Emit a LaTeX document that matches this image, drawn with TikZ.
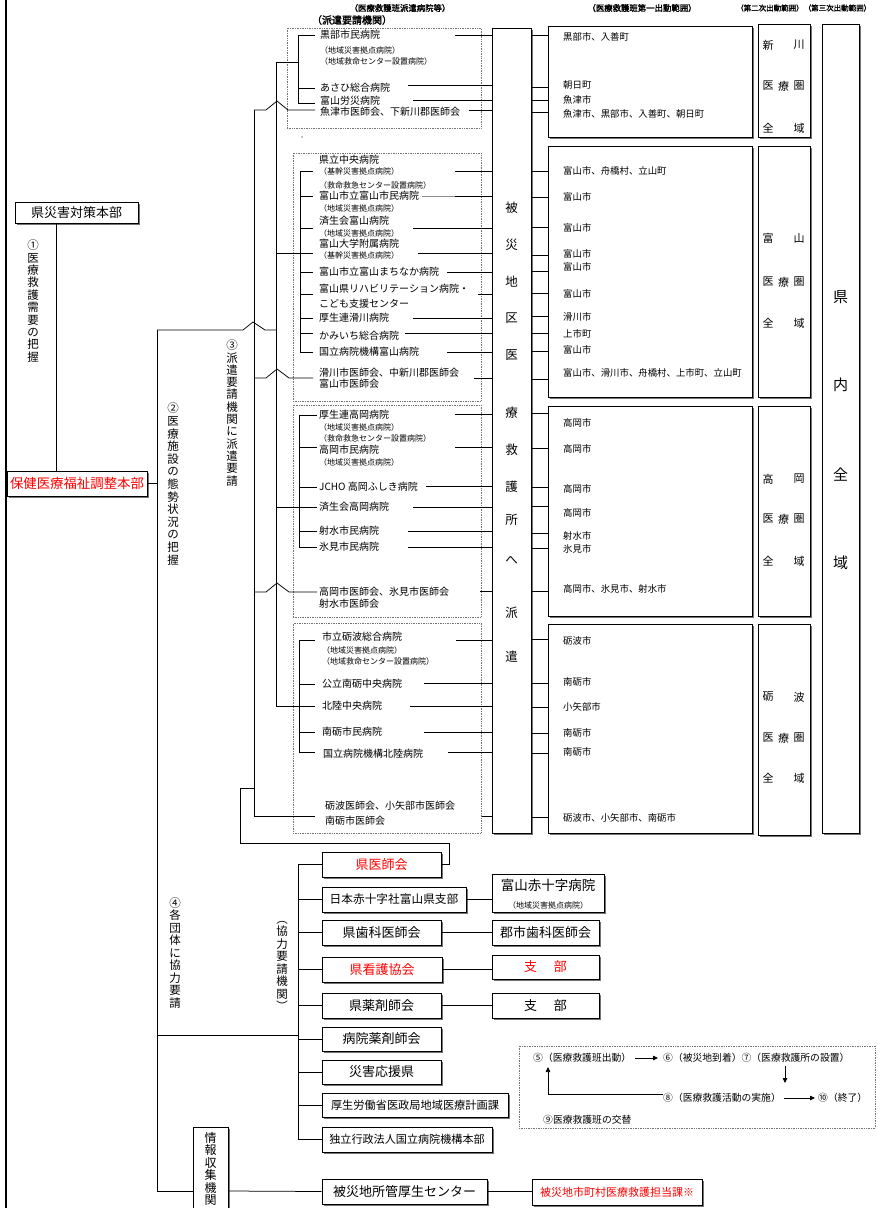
\documentclass[tikz,border=0pt]{standalone}
\usepackage{fontspec}
\setmainfont{Noto Sans CJK JP}
\newfontfamily\hbf{Noto Sans CJK JP}[FakeBold=2]
\usetikzlibrary{shadows,fit,arrows.meta}
\newcommand\fz[1]{\fontsize{#1}{#1}\selectfont}
\definecolor{jred}{RGB}{255,0,0}
\tikzset{
  conn/.style={line width=0.75pt},
  sbox/.style={draw, line width=0.9pt, fill=white, inner sep=0pt, drop shadow={shadow xshift=2pt,shadow yshift=-2pt,fill=black!55,opacity=1}},
  dbox/.style={draw=black!55, densely dotted, line width=0.7pt, inner sep=0pt},
  lbl/.style={inner sep=0pt, anchor=west},
  hname/.style={lbl, font=\fz{10}},
  hsub/.style={lbl, font=\fz{8}},
  rtxt/.style={lbl, font=\fz{9.4}},
  rc/.style={inner sep=0pt, font=\fz{11}},
  vtext/.style={inner sep=0pt, align=center},
  flow/.style={lbl, font=\fz{9.8}},
  arr/.style={conn, -{Triangle[width=4.5pt,length=5pt]}},
}
% box with shadow (fit to two corners) and centred text
\newcommand\tbox[5]{\node[sbox, fit={(#2) (#3)}] (#1) {};
  \node[inner sep=0pt, #4] (#1t) at (#1.center) {#5};}
\begin{document}
\begin{tikzpicture}[x=1pt,y=-1pt]
\useasboundingbox (0,0) rectangle (878,1208);
\draw[line width=2.5pt] (6,0) -- (6,1208);

% headers
\node[inner sep=0, font=\hbf\fz{8.4}] (h1) at (400,8) {（医療救護班派遣病院等）};
\node[inner sep=0, font=\hbf\fz{10}] (h2) at (352,20) {（派遣要請機関）};
\node[inner sep=0, font=\hbf\fz{8.4}] (h3) at (642,8) {（医療救護班第一出動範囲）};
\node[inner sep=0, anchor=west, font=\hbf\fz{7.5}] (h4) at (736,8) {（第二次出動範囲）（第三次出動範囲）};

% main boxes
\node[sbox, fit={(492,28) (531,833)}] (bar) {};
\node[sbox, fit={(548,26) (752,137)}] (r1) {};
\node[sbox, fit={(548,146) (752,397)}] (r2) {};
\node[sbox, fit={(548,406) (752,616)}] (r3) {};
\node[sbox, fit={(548,624) (752,833)}] (r4) {};
\node[sbox, fit={(758,24) (810,137)}] (a1) {};
\node[sbox, fit={(758,146) (810,397)}] (a2) {};
\node[sbox, fit={(758,406) (810,616)}] (a3) {};
\node[sbox, fit={(758,624) (810,835)}] (a4) {};
\node[sbox, fit={(822,24) (859,833)}] (all) {};

% dotted groups
\node[dbox, fit={(287,28) (481,128)}] (g1) {};
\node[dbox, fit={(293,153) (481,401)}] (g2) {};
\node[dbox, fit={(293,405) (481,617)}] (g3) {};
\node[dbox, fit={(293,623) (481,833)}] (g4) {};
\fill (302,137) circle (0.6);

% bar text
\foreach \c/\yy [count=\i] in {被/208,災/245,地/282,区/318,医/355,療/413,救/450,護/487,所/520,へ/560,派/613,遣/657}
  \node[inner sep=0, font=\fz{12.5}] (bt\i) at (511.5,\yy) {\c};
\foreach \c/\yy [count=\i] in {県/297,内/385,全/475,域/563}
  \node[inner sep=0, font=\fz{15}] (at\i) at (840.5,\yy) {\c};

% region texts
\newcommand\rgn[6]{%
  \node[rc] (#1a) at (768,#2) {#3}; \node[rc] (#1b) at (799,#2) {#4};
  \node[rc] (#1c) at (768,#5) {医}; \node[rc] (#1d) at (783.5,#5) {療}; \node[rc] (#1e) at (799,#5) {圏};
  \node[rc] (#1f) at (768,#6) {全}; \node[rc] (#1g) at (799,#6) {域};}
\rgn{ra}{45}{新}{川}{86}{128}
\rgn{rb}{238}{富}{山}{282}{323}
\rgn{rcc}{479}{高}{岡}{519}{561}
\rgn{rd}{697}{砺}{波}{738}{778}

% group 1
\foreach \yy/\tx/\sty [count=\i] in {35/黒部市民病院/hname,50/（地域災害拠点病院）/hsub,61/（地域救命センター設置病院）/hsub,88/あさひ総合病院/hname,101/富山労災病院/hname,112/魚津市医師会、下新川郡医師会/hname}
  \node[\sty] (ga\i) at (320,\yy) {\tx};
% group 2
\foreach \yy/\tx/\sty [count=\i] in {160/県立中央病院/hname,171/（基幹災害拠点病院）/hsub,185/（救命救急センター設置病院）/hsub,196/富山市立富山市民病院/hname,208/（地域災害拠点病院）/hsub,221/済生会富山病院/hname,233/（地域災害拠点病院）/hsub,244/富山大学附属病院/hname,255/（基幹災害拠点病院）/hsub,272/富山市立富山まちなか病院/hname,289/富山県リハビリテーション病院・/hname,304/こども支援センター/hname,318/厚生連滑川病院/hname,336/かみいち総合病院/hname,352/国立病院機構富山病院/hname,373/滑川市医師会、中新川郡医師会/hname,384/富山市医師会/hname}
  \node[\sty] (gb\i) at (319,\yy) {\tx};
% group 3
\foreach \yy/\tx/\sty [count=\i] in {415/厚生連高岡病院/hname,427/（地域災害拠点病院）/hsub,438/（救命救急センター設置病院）/hsub,450/高岡市民病院/hname,462/（地域災害拠点病院）/hsub,487/JCHO 高岡ふしき病院/hname,507/済生会高岡病院/hname,531/射水市民病院/hname,547/氷見市民病院/hname,592/高岡市医師会、氷見市医師会/hname,604/射水市医師会/hname}
  \node[\sty] (gc\i) at (319,\yy) {\tx};
% group 4
\foreach \yy/\tx/\sty/\xx [count=\i] in {637/市立砺波総合病院/hname/322,650/（地域災害拠点病院）/hsub/322,661/（地域救命センター設置病院）/hsub/322,684/公立南砺中央病院/hname/322,706/北陸中央病院/hname/322,732/南砺市民病院/hname/322,754/国立病院機構北陸病院/hname/323,806/砺波医師会、小矢部市医師会/hname/325,821/南砺市医師会/hname/325}
  \node[\sty] (gd\i) at (\xx,\yy) {\tx};

% lines hospital -> bar
\foreach \yy/\xs in {35/455,85/408,100/413,110/469,171/455,196/455,228/413,253/418,272/447,294/478,318/413,333/405,352/447,378/474,414/455,447/455,486/426,507/413,531/408,547/408,591/480,640/456,683/424,706/410,732/424,752/448,816/482}
  \draw[conn] (\xs,\yy) -- (bar.west |- 0,\yy);
\draw[line width=0.5pt, black!45] (422,196) -- (455,196);

% lines bar -> range boxes
\foreach \yy in {35,87,100,112} \draw[conn] (bar.east |- 0,\yy) -- (r1.west |- 0,\yy);
\foreach \yy in {171,197,227,255,271,293,316,333,351,379} \draw[conn] (bar.east |- 0,\yy) -- (r2.west |- 0,\yy);
\foreach \yy in {413,448,487,506,533,548,591} \draw[conn] (bar.east |- 0,\yy) -- (r3.west |- 0,\yy);
\foreach \yy in {639,683,707,733,753,817} \draw[conn] (bar.east |- 0,\yy) -- (r4.west |- 0,\yy);

% range texts
\foreach \yy/\tx [count=\i] in {37/黒部市、入善町,85/朝日町,100/魚津市,114/魚津市、黒部市、入善町、朝日町,171/富山市、舟橋村、立山町,197/富山市,228/富山市,254/富山市,267/富山市,294/富山市,317/滑川市,334/上市町,350/富山市,373/富山市、滑川市、舟橋村、上市町、立山町,423/高岡市,449/高岡市,489/高岡市,513/高岡市,536/射水市,549/氷見市,589/高岡市、氷見市、射水市,641/砺波市,682/南砺市,707/小矢部市,733/南砺市,752/南砺市,818/砺波市、小矢部市、南砺市}
  \node[rtxt] (rt\i) at (563,\yy) {\tx};

% trunks
\coordinate (ta1) at (276,62); \coordinate (ta2) at (276,706);
\coordinate (tb1) at (254,110); \coordinate (tb2) at (254,816);
\draw[conn] (ta1) -- (ta2);
\draw[conn] (tb1) -- (tb2);
% group 1 bracket
\draw[conn] (ta1) -- (298,62);
\draw[conn] (315,35) -- (298,35) -- (298,103) -- (315,103);
\draw[conn] (298,88) -- (315,88);
\draw[conn] (tb1) -- (266,110) -- (277,101) -- (288,110) -- (315,110);
% group 2 bracket
\draw[conn] (276,253) -- (313,253);
\draw[conn] (300,171) -- (300,352);
\foreach \yy in {171,196,228,272,294,318,333,352} \draw[conn] (300,\yy) -- (313,\yy);
\draw[conn] (254,378) -- (266,378) -- (277,369) -- (289,378) -- (313,378);
% group 3 bracket
\draw[conn] (276,507) -- (317,507);
\draw[conn] (299,415) -- (299,547);
\foreach \yy in {415,447,487,531,547} \draw[conn] (299,\yy) -- (317,\yy);
\draw[conn] (254,592) -- (266,592) -- (277,583) -- (289,592) -- (317,592);
% group 4 bracket
\draw[conn] (ta2) -- (315,706);
\draw[conn] (299,640) -- (299,752);
\foreach \yy in {640,684,732,752} \draw[conn] (299,\yy) -- (315,\yy);
\draw[conn] (tb2) -- (315,816);

% left side
\tbox{hq}{15,202}{138,223}{font=\fz{13}}{県災害対策本部}
\tbox{ho}{7,471}{147,496}{font=\fz{13.4}, text=jred}{保健医療福祉調整本部}
\draw[conn] (hq.south -| 56,0) -- (ho.north -| 56,0);
\coordinate (t2top) at (157,330); \coordinate (t2bot) at (157,1191);
\draw[conn] (ho.east) -- (ho.east -| t2top);
\draw[conn] (t2top) -- (t2bot);
\draw[conn] (t2top) -- (243,330) -- (253,322) -- (265,330) -- (276,330);

\node[vtext, font={\fontsize{11.5}{12.4}\selectfont}] (v1) at (33,301) {①\\医\\療\\救\\護\\需\\要\\の\\把\\握};
\node[vtext, font={\fontsize{11.5}{12.6}\selectfont}] (v2) at (173,484) {②\\医\\療\\施\\設\\の\\態\\勢\\状\\況\\の\\把\\握};
\node[vtext, font={\fontsize{11.5}{12.3}\selectfont}] (v3) at (232,413) {③\\派\\遣\\要\\請\\機\\関\\に\\派\\遣\\要\\請};
\node[vtext, font={\fontsize{11.5}{12.5}\selectfont}] (v4) at (175,953) {④\\各\\団\\体\\に\\協\\力\\要\\請};
\node[vtext, font={\fontsize{11.5}{12.5}\selectfont}] (v5) at (282,966) {︵\\協\\力\\要\\請\\機\\関\\︶};

% bottom boxes
\tbox{b1}{322,852}{441,877}{font=\fz{13}, text=jred}{県医師会}
\tbox{b2}{322,887}{466,912}{font=\fz{11.7}}{日本赤十字社富山県支部}
\node[sbox, fit={(492,874) (604,912)}] (b2r) {};
\node[inner sep=0, font=\fz{13.5}] (b2rt) at (548,885) {富山赤十字病院};
\node[inner sep=0, font=\fz{8}] (b2rs) at (548,905) {（地域災害拠点病院）};
\tbox{b3}{322,920}{441,945}{font=\fz{13}}{県歯科医師会}
\tbox{b3r}{492,920}{599,945}{font=\fz{13}}{郡市歯科医師会}
\tbox{b4}{322,957}{442,982}{font=\fz{13}, text=jred}{県看護協会}
\tbox{b4r}{492,955}{599,979}{font=\fz{13}, text=jred}{支\hspace{17pt}部}
\tbox{b5}{322,993}{441,1018}{font=\fz{13}}{県薬剤師会}
\tbox{b5r}{492,993}{599,1018}{font=\fz{13}}{支\hspace{17pt}部}
\tbox{b6}{322,1027}{441,1051}{font=\fz{13}}{病院薬剤師会}
\tbox{b7}{322,1060}{441,1084}{font=\fz{13}}{災害応援県}
\tbox{b8}{322,1093}{508,1117}{font=\fz{11.2}}{厚生労働省医政局地域医療計画課}
\tbox{b9}{322,1127}{492,1152}{font=\fz{11.1}}{独立行政法人国立病院機構本部}

\coordinate (tr) at (298,0);
\draw[conn] (b1.west -| tr) -- (b9.west -| tr);
\foreach \b in {b1,b2,b3,b4,b5,b6,b7,b8,b9} \draw[conn] (\b.west -| tr) -- (\b.west);
\draw[conn] (b2.east) -- (b2.east -| b2r.west);
\draw[conn] (b3.east) -- (b3r.west);
\draw[conn] (b4.east) -- (b4.east -| b4r.west);
\draw[conn] (b5.east) -- (b5r.west);
\draw[conn] (157,1035) -- (298,1035);
\draw[conn] (254,788) -- (240,788) -- (240,843) -- (449,843) -- (449,864.5) -- (b1.east);

% info
\node[sbox, fit={(193,1127) (228,1235)}] (info) {};
\node[vtext, font={\fontsize{12}{12.5}\selectfont}] (infot) at (210.5,1169) {情\\報\\収\\集\\機\\関};
\tbox{sc}{322,1179}{487,1204}{font=\fz{13}}{被災地所管厚生センター}
\tbox{rb}{532,1179}{702,1205}{font=\fz{11}, text=jred}{被災地市町村医療救護担当課※}
\draw[conn] (t2bot) -- (info.west |- t2bot);
\draw[conn] (info.east |- t2bot) -- (sc.west);
\draw[conn] (sc.east) -- (rb.west |- sc.east);

% flow
\node[dbox, fit={(519,1046) (875,1128)}] (fl) {};
\node[flow] (f5) at (533,1058) {⑤（医療救護班出動）};
\node[flow] (f6) at (663,1058) {⑥（被災地到着）⑦（医療救護所の設置）};
\node[flow] (f8) at (663,1098) {⑧（医療救護活動の実施）};
\node[flow] (f10) at (818,1098) {⑩（終了）};
\node[flow] (f9) at (543,1120) {⑨医療救護班の交替};
\draw[arr] ([xshift=4pt]f5.east) -- ([xshift=-5pt]f6.west);
\draw[arr] (785,1066) -- (785,1083);
\draw[arr] ([xshift=3pt]f8.east) -- ([xshift=-3pt]f10.west);
\draw[arr] (f8.west |- 0,1094) -- (548,1094) -- (548,1067);
\end{tikzpicture}
\end{document}
